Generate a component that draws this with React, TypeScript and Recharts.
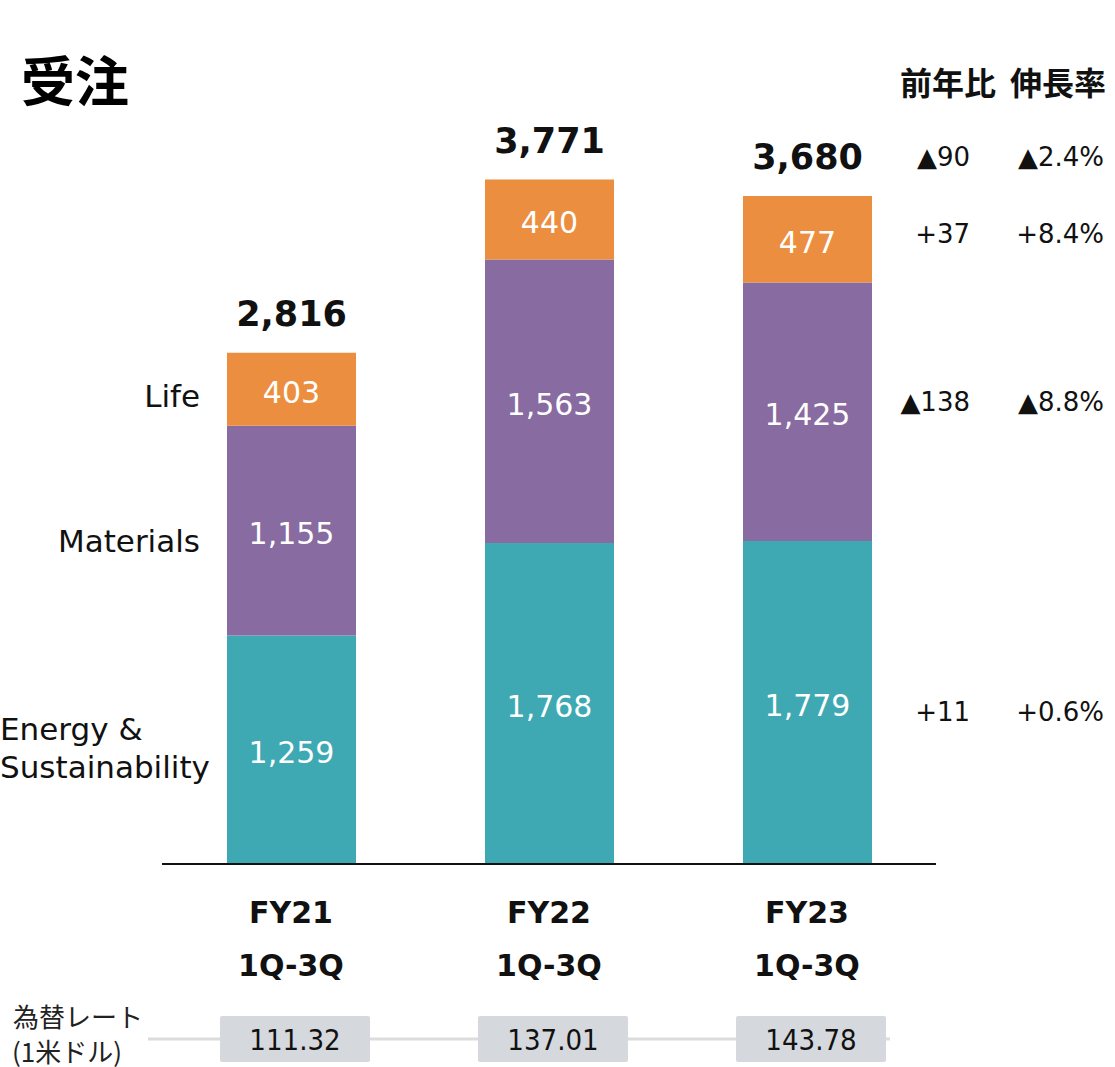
import { BarChart, Bar, XAxis, YAxis, LabelList } from 'recharts';

const categories = ['FY21', 'FY22', 'FY23'];
const periods = ['1Q-3Q', '1Q-3Q', '1Q-3Q'];
const energy = [1259, 1768, 1779];
const materials = [1155, 1563, 1425];
const life = [403, 440, 477];
const totals = [2816, 3771, 3680];
const fxRates = ['111.32', '137.01', '143.78'];

// 前年比 / 伸長率 (FY23 vs FY22)
const totalChange = ['▲90', '▲2.4%'];
const lifeChange = ['+37', '+8.4%'];
const materialsChange = ['▲138', '▲8.8%'];
const energyChange = ['+11', '+0.6%'];

const data = categories.map((c, i) => ({
  name: c,
  period: periods[i],
  energy: energy[i],
  materials: materials[i],
  life: life[i],
  total: totals[i],
  fx: fxRates[i],
}));

const LATIN = "'DejaVu Sans', 'Noto Sans CJK JP', sans-serif";
const CJK = "'Noto Sans CJK JP', sans-serif";
const fmt = (v: any) => Number(v).toLocaleString('en-US');

const COL_DIFF = 970;
const COL_RATE = 1104;

function ChangePair({ y, values }: { y: number; values: string[] }) {
  return (
    <g fontFamily={LATIN} fontSize={26} fill="#111">
      <text x={COL_DIFF} y={y} textAnchor="end" dominantBaseline="central">{values[0]}</text>
      <text x={COL_RATE} y={y} textAnchor="end" dominantBaseline="central">{values[1]}</text>
    </g>
  );
}

function changeLabel(values: string[], dy: number) {
  return (p: any) => {
    if (p.index !== 2) return null;
    return <ChangePair y={p.y + p.height / 2 + dy} values={values} />;
  };
}

function sideLabel(lines: string[], dy: number, anchorStart?: boolean) {
  return (p: any) => {
    if (p.index !== 0) return null;
    const cy = p.y + p.height / 2 + dy;
    const lh = 38;
    return (
      <g fontFamily={LATIN} fontSize={31} fill="#111">
        {lines.map((l, k) => (
          <text
            key={k}
            x={anchorStart ? 0 : p.x - 27}
            y={cy + (k - (lines.length - 1) / 2) * lh}
            textAnchor={anchorStart ? 'start' : 'end'}
            dominantBaseline="central"
          >
            {l}
          </text>
        ))}
      </g>
    );
  };
}

const TotalLabel = (p: any) => {
  const cx = p.x + p.width / 2;
  const cy = p.y - 39;
  return (
    <g>
      <text x={cx} y={cy} textAnchor="middle" dominantBaseline="central"
        fontFamily={LATIN} fontWeight="bold" fontSize={35} fill="#111">
        {fmt(totals[p.index])}
      </text>
      {p.index === 2 && <ChangePair y={cy} values={totalChange} />}
    </g>
  );
};

const CategoryTick = (p: any) => {
  const { x, y, payload } = p;
  const d = data[payload.index];
  return (
    <g fontFamily={LATIN} fill="#111">
      <text x={x} y={y + 48} textAnchor="middle" dominantBaseline="central" fontWeight="bold" fontSize={30}>
        {d.name}
      </text>
      <text x={x} y={y + 101} textAnchor="middle" dominantBaseline="central" fontWeight="bold" fontSize={30}>
        {d.period}
      </text>
      <rect x={x - 71} y={y + 152} width={150} height={46} fill="#d5d8dc" rx={2} />
      <text x={x + 4} y={y + 176} textAnchor="middle" dominantBaseline="central" fontSize={29}
        fontFamily="'DejaVu Sans Condensed', 'DejaVu Sans', sans-serif">
        {d.fx}
      </text>
    </g>
  );
};

const inside = { fill: '#fff', fontSize: 30, fontFamily: LATIN };

export default function App() {
  return (
    <div style={{ position: 'absolute', left: 0, top: 0, width: 1115, height: 1067, background: '#fff' }}>
      <svg width={1115} height={1067} style={{ position: 'absolute', left: 0, top: 0 }}>
        <text x={21} y={78} dominantBaseline="central" fontFamily={CJK} fontWeight="bold" fontSize={54} fill="#000">受注</text>
        <text x={996} y={81} textAnchor="end" dominantBaseline="central" fontFamily={CJK} fontWeight="bold" fontSize={32} fill="#111">前年比</text>
        <text x={1106} y={81} textAnchor="end" dominantBaseline="central" fontFamily={CJK} fontWeight="bold" fontSize={32} fill="#111">伸長率</text>
        <text x={13} y={1015} dominantBaseline="central" fontFamily={CJK} fontSize={26} fill="#222">為替レート</text>
        <text x={12} y={1050} dominantBaseline="central" fontFamily={CJK} fontSize={26} fill="#222">(1米ドル)</text>
        <line x1={148} x2={890} y1={1039} y2={1039} stroke="#dcdcdc" strokeWidth={3} />
      </svg>
      <div style={{ position: 'absolute', left: 0, top: 0 }}>
        <BarChart width={1115} height={1067} data={data}
          margin={{ top: 138, right: 179, left: 162, bottom: 0 }}>
          <XAxis dataKey="name" height={203} tickLine={false} tickSize={0} tickMargin={0}
            axisLine={{ stroke: '#111', strokeWidth: 2 }} tick={CategoryTick} interval={0} />
          <YAxis hide domain={[0, 4000]} />
          <Bar dataKey="energy" stackId="a" fill="#3ea9b3" barSize={129} isAnimationActive={false}>
            <LabelList dataKey="energy" position="center" formatter={fmt} {...inside} dy={3} />
            <LabelList dataKey="energy" content={sideLabel(['Energy &', 'Sustainability'], -2, true)} />
            <LabelList dataKey="energy" content={changeLabel(energyChange, 9)} />
          </Bar>
          <Bar dataKey="materials" stackId="a" fill="#886ba0" barSize={129} isAnimationActive={false}>
            <LabelList dataKey="materials" position="center" formatter={fmt} {...inside} dy={3} />
            <LabelList dataKey="materials" content={sideLabel(['Materials'], 10)} />
            <LabelList dataKey="materials" content={changeLabel(materialsChange, -10)} />
          </Bar>
          <Bar dataKey="life" stackId="a" fill="#ec8e3f" barSize={129} isAnimationActive={false}>
            <LabelList dataKey="life" position="center" formatter={fmt} {...inside} dy={3} />
            <LabelList dataKey="life" content={sideLabel(['Life'], 7)} />
            <LabelList dataKey="life" content={changeLabel(lifeChange, -5)} />
            <LabelList dataKey="total" content={TotalLabel} />
          </Bar>
        </BarChart>
      </div>
    </div>
  );
}
